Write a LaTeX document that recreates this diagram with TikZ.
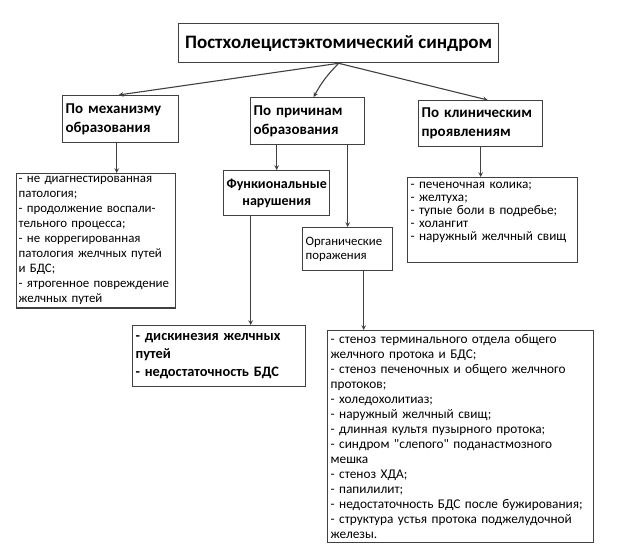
\documentclass[tikz,border=0pt]{standalone}
\usepackage{fontspec}
\setmainfont{Carlito}[Ligatures=TeXOff]
\usetikzlibrary{calc}
\usetikzlibrary{arrows}

\begin{document}
\begin{tikzpicture}[x=1pt,y=-1pt,
  box/.style={draw=black!75,line width=1.3pt,fill=white,anchor=north west,align=left,inner sep=3pt},
  head/.style={font=\bfseries\fontsize{15}{19}\selectfont},
  list/.style={font=\fontsize{13.3}{15}\selectfont},
  arr/.style={-stealth,draw=black!75,line width=1.1pt}]

\useasboundingbox (0,0) rectangle (620,556);

\node[box,align=center,minimum width=320,minimum height=39,font=\bfseries\fontsize{19}{22}\selectfont] (title) at (178,23) {Постхолецистэктомический синдром};

\node[box,head,minimum width=116,minimum height=47,text width=110] (mech) at (62,95) {По механизму\\образования};
\node[box,head,minimum width=114,minimum height=47,text width=108] (prich) at (250,97) {По причинам\\образования};
\node[box,head,minimum width=124,minimum height=46,text width=118] (klin) at (418,100) {По клиническим\\проявлениям};

\node[box,inner xsep=2pt,minimum width=159,minimum height=134,text width=155,font=\fontsize{12.9}{15}\selectfont] (mechlist) at (16,173) {- не диагнестированная\\патология;\\- продолжение воспали-\\тельного процесса;\\- не коррегированная\\патология желчных путей\\и БДС;\\- ятрогенное повреждение\\желчных путей};

\node[box,align=center,minimum width=105,minimum height=45,font=\bfseries\fontsize{14}{17}\selectfont] (funk) at (223,170) {Функиональные\\нарушения};
\node[box,minimum width=90,minimum height=43,text width=84,font=\fontsize{12.8}{14}\selectfont] (organ) at (302,227) {Органические\\поражения};

\node[box,minimum width=170,minimum height=85,text width=164,font=\fontsize{13.2}{13}\selectfont] (kliniklist) at (407,177) {- печеночная колика;\\- желтуха;\\- тупые боли в подребье;\\- холангит\\- наружный желчный свищ\\ \strut};

\node[box,minimum width=173,minimum height=61,text width=167,font=\bfseries\fontsize{14.4}{18}\selectfont] (diskin) at (132,325) {- дискинезия желчных\\путей\\- недостаточность БДС};

\node[box,list,minimum width=266,minimum height=212,text width=260] (organlist) at (327,330) {- стеноз терминального отдела общего\\желчного протока и БДС;\\- стеноз печеночных и общего желчного\\протоков;\\- холедохолитиаз;\\- наружный желчный свищ;\\- длинная культя пузырного протока;\\- синдром "слепого" поданастмозного\\мешка\\- стеноз ХДА;\\- папилилит;\\- недостаточность БДС после бужирования;\\- структура устья протока поджелудочной\\железы.};

% arrows
\draw[arr] (title.south) -- ([xshift=-2]mech.north);
\draw[arr] (title.south) to[bend right=8] ([xshift=6]prich.north);
\draw[arr] (title.south) -- ([xshift=7]klin.north);

\draw[arr] ([xshift=-4]mech.south) -- ([xshift=-4]mech.south |- mechlist.north);
\draw[arr] (funk.north |- prich.south) -- (funk.north);
\draw[arr] (organ.north |- prich.south) -- (organ.north);
\draw[arr] (klin.south) -- (klin.south |- kliniklist.north);
\draw[arr] ([xshift=-26]funk.south) -- ([xshift=-26]funk.south |- diskin.north);
\draw[arr] ([xshift=16]organ.south) -- ([xshift=16]organ.south |- organlist.north);

\end{tikzpicture}
\end{document}
